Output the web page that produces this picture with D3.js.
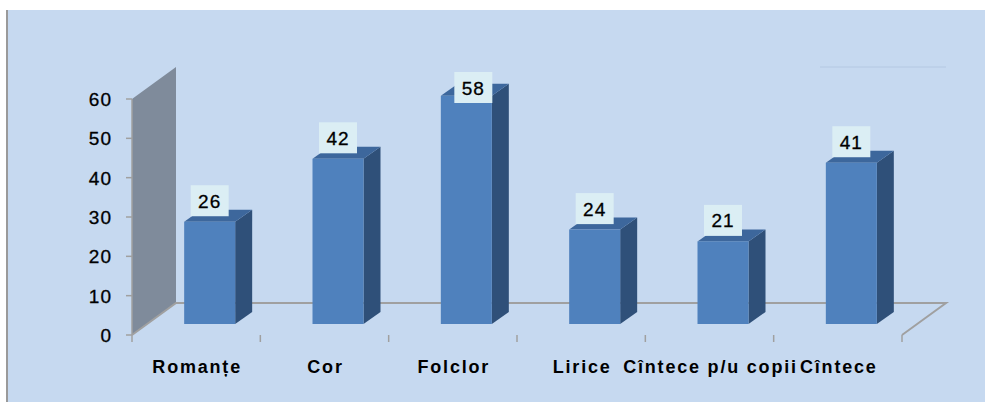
<!DOCTYPE html>
<html>
<head>
<meta charset="utf-8">
<script src="https://cdn.jsdelivr.net/npm/d3@7"></script>
<style>
  body { margin: 0; background: #fff; }
  svg { display: block; font-family: 'Liberation Sans', Arial, sans-serif; }
</style>
</head>
<body>
<div id="chart"></div>
<script>
// Chart data
const categories = ['Romanțe', 'Cor', 'Folclor', 'Lirice', 'Cîntece p/u copii', 'Cîntece']
const values = [26, 42, 58, 24, 21, 41]
const yTicks = [0, 10, 20, 30, 40, 50, 60]

const width = 985
const height = 402

const svg = d3
  .select('#chart')
  .append('svg')
  .attr('width', width)
  .attr('height', height)

// Background panel with left border
svg.append('rect')
  .attr('x', 7).attr('y', 10)
  .attr('width', width - 7).attr('height', height - 10)
  .attr('fill', '#c6d9f0')
svg.append('line')
  .attr('x1', 7).attr('x2', 7).attr('y1', 10).attr('y2', height)
  .attr('stroke', '#9a9a9a').attr('stroke-width', 2)

// Scales
const x = d3.scaleBand().domain(categories).range([132, 902])
const y = d3.scaleLinear().domain([0, 60]).range([335, 99])

// 3D depth of floor / wall
const depth = { dx: 44, dy: -32 }
const barDepth = { dx: 17, dy: -12 }
const barOffset = { dx: 13.5, dy: -11 }
const barWidth = 51

const x0 = x.range()[0]
const x1 = x.range()[1]
const yb = y(0)
const yt = y(60)

// faint plot area edge at top right
svg.append('line')
  .attr('x1', 820).attr('x2', x1 + depth.dx)
  .attr('y1', yt + depth.dy).attr('y2', yt + depth.dy)
  .attr('stroke', '#b4c8e2').attr('stroke-width', 1)

// Back wall
svg.append('path')
  .attr('d', `M${x0},${yb} L${x0},${yt} L${x0 + depth.dx},${yt + depth.dy} L${x0 + depth.dx},${yb + depth.dy} Z`)
  .attr('fill', '#7f8b9b')

// Floor outline
svg.append('path')
  .attr('d', `M${x0},${yb} L${x0 + depth.dx},${yb + depth.dy} L${x1 + depth.dx},${yb + depth.dy} L${x1},${yb}`)
  .attr('fill', 'none')
  .attr('stroke', '#a0a0a0')
  .attr('stroke-width', 2)

// Y axis
svg.append('line')
  .attr('x1', x0).attr('x2', x0).attr('y1', yb).attr('y2', yt)
  .attr('stroke', '#a0a0a0').attr('stroke-width', 1.5)

svg.selectAll('.y-tick')
  .data(yTicks)
  .enter()
  .append('line')
  .attr('class', 'y-tick')
  .attr('x1', x0 - 6).attr('x2', x0)
  .attr('y1', d => y(d)).attr('y2', d => y(d))
  .attr('stroke', '#a0a0a0').attr('stroke-width', 1.5)

svg.selectAll('.y-label')
  .data(yTicks)
  .enter()
  .append('text')
  .attr('class', 'y-label')
  .attr('x', 112)
  .attr('y', d => y(d) + 7)
  .attr('text-anchor', 'end')
  .attr('font-size', 19)
  .attr('letter-spacing', 1)
  .attr('fill', '#000')
  .attr('stroke', '#000').attr('stroke-width', 0.3)
  .text(d => d)

// X ticks
const xTicks = categories.map(c => x(c)).concat([x1])
svg.selectAll('.x-tick')
  .data(xTicks)
  .enter()
  .append('line')
  .attr('class', 'x-tick')
  .attr('x1', d => d).attr('x2', d => d)
  .attr('y1', yb).attr('y2', yb + 7)
  .attr('stroke', '#a0a0a0').attr('stroke-width', 1.5)

svg.selectAll('.x-label')
  .data(categories)
  .enter()
  .append('text')
  .attr('class', 'x-label')
  .attr('x', d => x(d) + x.bandwidth() / 2 + 1)
  .attr('y', 373)
  .attr('text-anchor', 'middle')
  .attr('font-size', 18)
  .attr('font-weight', 'bold')
  .attr('letter-spacing', 1.8)
  .attr('fill', '#000')
  .text(d => d)

// Bars
const data = categories.map((c, i) => ({ label: c, value: values[i] }))
const bx = d => x(d.label) + (x.bandwidth() - barWidth) / 2 + barOffset.dx
const by = d => y(d.value) + barOffset.dy
const bb = yb + barOffset.dy

const bars = svg.selectAll('.bar').data(data).enter().append('g').attr('class', 'bar')

bars.append('path')
  .attr('d', d => {
    const l = bx(d) + barWidth
    return `M${l},${bb} L${l},${by(d)} L${l + barDepth.dx},${by(d) + barDepth.dy} L${l + barDepth.dx},${bb + barDepth.dy} Z`
  })
  .attr('fill', '#2f5079')

bars.append('path')
  .attr('d', d => {
    const l = bx(d)
    const t = by(d)
    return `M${l},${t} L${l + barDepth.dx},${t + barDepth.dy} L${l + barWidth + barDepth.dx},${t + barDepth.dy} L${l + barWidth},${t} Z`
  })
  .attr('fill', '#3d679c')

bars.append('rect')
  .attr('x', bx)
  .attr('y', by)
  .attr('width', barWidth)
  .attr('height', d => bb - by(d))
  .attr('fill', '#4f81bd')

// Value labels
const labelTop = 87.5
const labelPos = d => {
  const cy = by(d) - 21
  const clamped = cy < labelTop
  return {
    cx: bx(d) + barWidth / 2 + (clamped ? 7 : 0),
    cy: clamped ? labelTop : cy,
  }
}

bars.append('rect')
  .attr('x', d => labelPos(d).cx - 19)
  .attr('y', d => labelPos(d).cy - 15.5)
  .attr('width', 38)
  .attr('height', 31)
  .attr('fill', '#dbeef4')

bars.append('text')
  .attr('x', d => labelPos(d).cx)
  .attr('y', d => labelPos(d).cy + 7)
  .attr('text-anchor', 'middle')
  .attr('font-size', 19)
  .attr('letter-spacing', 1)
  .attr('fill', '#000')
  .attr('stroke', '#000').attr('stroke-width', 0.3)
  .text(d => d.value)
</script>
</body>
</html>
